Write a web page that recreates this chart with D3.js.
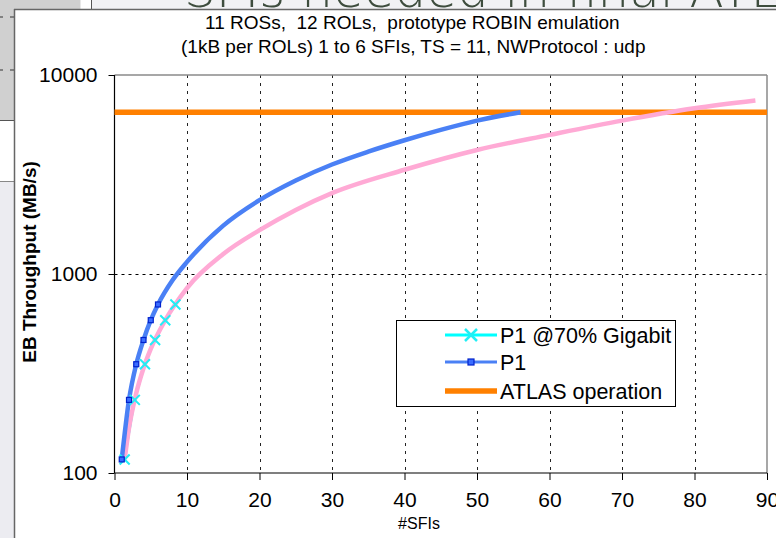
<!DOCTYPE html>
<html><head><meta charset="utf-8">
<script src="https://cdn.jsdelivr.net/npm/d3@7"></script>
<style>body{margin:0;background:#fff;}svg{display:block;font-family:"Liberation Sans",Arial,sans-serif;}</style>
</head><body>
<svg id="c" width="776" height="538"></svg>
<script>
// ---- data ----
const titleLines = ["11 ROSs,  12 ROLs,  prototype ROBIN emulation", "(1kB per ROLs) 1 to 6 SFIs, TS = 11, NWProtocol : udp"];
const xTicks = [0,10,20,30,40,50,60,70,80,90];
const yTicks = [100,1000,10000];
// P1 measured points
const p1Sfi = [1,2,3,4,5,6];
const p1Thr = [117,233,352,466,586,703];
// P1 @70% Gigabit points
const g70Sfi = [1.4,2.8,4.2,5.6,7.0,8.4];
const g70Thr = [117,233,352,466,586,703];
// P1 trend (blue)
const p1TrendSfi = [1,2,3,4,5,6,8,10,15,20,25,30,35,40,45,50,56];
const p1TrendThr = [117,233,352,466,586,703,930,1150,1750,2350,2950,3550,4120,4700,5300,5900,6500];
// P1 @70% trend (pink)
const g70TrendSfi = [1.4,2,3,4,5,7,10,15,20,25,30,40,50,60,70,80,88.4];
const g70TrendThr = [117,168,252,336,420,586,850,1260,1660,2100,2550,3340,4200,5000,5900,6800,7440];
// ATLAS operation level
const atlasSfi = [0,90];
const atlasThr = [6500,6500];
const legendLabels = ["P1 @70% Gigabit","P1","ATLAS operation"];

const svg = d3.select("#c");

// ---- slide background ----
svg.append("rect").attr("x",0).attr("y",0).attr("width",776).attr("height",538).attr("fill","#ffffff");
svg.append("rect").attr("x",91).attr("y",0).attr("width",685).attr("height",10).attr("fill","#f1f1f4");
svg.append("line").attr("x1",91.5).attr("x2",91.5).attr("y1",0).attr("y2",10).attr("stroke","#555").attr("stroke-width",1);
svg.append("rect").attr("x",0).attr("y",0).attr("width",80).attr("height",120).attr("fill","#d0d0d0");
svg.append("line").attr("x1",80.5).attr("x2",80.5).attr("y1",0).attr("y2",120).attr("stroke","#e8e8e8");
svg.append("line").attr("x1",0).attr("x2",14).attr("y1",120.5).attr("y2",120.5).attr("stroke","#555");
svg.append("rect").attr("x",0).attr("y",181).attr("width",14).attr("height",357).attr("fill","#ececf1");
svg.append("line").attr("x1",0).attr("x2",14).attr("y1",181.5).attr("y2",181.5).attr("stroke","#888");
[[0,3],[10,14]].forEach(s=>{
  svg.append("line").attr("x1",s[0]).attr("x2",s[1]).attr("y1",17).attr("y2",17).attr("stroke","#333");
  svg.append("line").attr("x1",s[0]).attr("x2",s[1]).attr("y1",70).attr("y2",70).attr("stroke","#333");
});
svg.append("clipPath").attr("id","topclip").append("rect").attr("x",0).attr("y",0).attr("width",776).attr("height",9);
svg.append("text").attr("clip-path","url(#topclip)").attr("x",184).attr("y",7).attr("font-size",50).attr("fill","#3e4d3e")
  .attr("font-family","'DejaVu Sans ExtraLight','DejaVu Sans',sans-serif").attr("font-weight",200)
  .text("SFIs needed in final ATLAS");

// chart frame
svg.append("rect").attr("x",14).attr("y",9.5).attr("width",770).attr("height",540).attr("fill","#ffffff");
svg.append("line").attr("x1",14).attr("x2",776).attr("y1",9.5).attr("y2",9.5).attr("stroke","#666").attr("stroke-width",1.5);
svg.append("line").attr("x1",14.5).attr("x2",14.5).attr("y1",9).attr("y2",538).attr("stroke","#666").attr("stroke-width",1.5);

// ---- scales ----
const x = d3.scaleLinear().domain([0,90]).range([114.5,767]);
const y = d3.scaleLog().domain([100,10000]).range([473,75]);

// title
svg.selectAll(".title").data(titleLines).join("text")
  .attr("x",(d,i)=> i===0 ? 205 : 181).attr("y",(d,i)=>29+i*23.5)
  .attr("font-size",19).attr("fill","#000").attr("xml:space","preserve")
  .style("white-space","pre").text(d=>d);

// grid
const g = svg.append("g");
g.selectAll(".vg").data(xTicks.filter(t=>t>0 && t<90)).join("line")
  .attr("x1",d=>Math.round(x(d))+0.5).attr("x2",d=>Math.round(x(d))+0.5)
  .attr("y1",y(10000)).attr("y2",y(100))
  .attr("stroke","#222").attr("stroke-dasharray","3,5");
g.selectAll(".hg").data([1000]).join("line")
  .attr("x1",x(0)).attr("x2",x(90)).attr("y1",d=>Math.round(y(d))+0.5).attr("y2",d=>Math.round(y(d))+0.5)
  .attr("stroke","#000").attr("stroke-dasharray","3,4");
// plot border top/right
g.append("line").attr("x1",x(0)).attr("x2",x(90)).attr("y1",y(10000)).attr("y2",y(10000)).attr("stroke","#8a8a8a").attr("stroke-width",1.5);
g.append("line").attr("x1",x(90)).attr("x2",x(90)).attr("y1",y(10000)).attr("y2",y(100)).attr("stroke","#8a8a8a").attr("stroke-width",1.5);

// axes
const yAxis = d3.axisLeft(y).tickValues(yTicks).tickFormat(d3.format("d")).tickSize(6).tickPadding(11);
const ya = svg.append("g").attr("transform",`translate(${x(0)},0)`).call(yAxis);
ya.select(".domain").attr("stroke","#000").attr("stroke-width",1.2).attr("d",`M0,${y(10000)}V${y(100)}`);
ya.selectAll("text").attr("font-size",21).attr("fill","#000").attr("font-family","'Liberation Sans',Arial,sans-serif");
ya.selectAll("line").attr("stroke","#000");

const xAxis = d3.axisBottom(x).tickValues(xTicks).tickSize(7).tickPadding(12);
const xa = svg.append("g").attr("transform",`translate(0,${y(100)})`).call(xAxis);
xa.select(".domain").attr("stroke","#000").attr("stroke-width",1.2).attr("d",`M${x(0)},0H${x(90)}`);
xa.selectAll("text").attr("font-size",21).attr("fill","#000").attr("font-family","'Liberation Sans',Arial,sans-serif");
xa.selectAll("line").attr("stroke","#000");

svg.append("text").attr("x",419).attr("y",529).attr("text-anchor","middle").attr("font-size",16).text("#SFIs");
svg.append("text").attr("transform","translate(36,262) rotate(-90)").attr("text-anchor","middle")
  .attr("font-size",19).attr("font-weight","bold").text("EB Throughput (MB/s)");

// ---- series ----
const line = (xs,ys)=> d3.line().x(i=>x(xs[i])).y(i=>y(ys[i])).curve(d3.curveMonotoneX)(d3.range(xs.length));
const lineLin = (xs,ys)=> d3.line().x(i=>x(xs[i])).y(i=>y(ys[i]))(d3.range(xs.length));

svg.append("path").attr("d",lineLin(g70Sfi,g70Thr)).attr("fill","none").attr("stroke","#00ffff").attr("stroke-width",2);
svg.append("path").attr("d",lineLin(p1Sfi,p1Thr)).attr("fill","none").attr("stroke","#3366ff").attr("stroke-width",2);
svg.append("path").attr("d",lineLin(atlasSfi,atlasThr)).attr("fill","none").attr("stroke","#ff8000").attr("stroke-width",5.5);
svg.append("path").attr("d",line(g70TrendSfi,g70TrendThr)).attr("fill","none").attr("stroke","#ffaad5").attr("stroke-width",4.5).attr("stroke-linecap","butt");
svg.append("path").attr("d",line(p1TrendSfi,p1TrendThr)).attr("fill","none").attr("stroke","#4a80f5").attr("stroke-width",4.5).attr("stroke-linecap","butt");

// markers
const xm = (cx,cy,s)=>`M${cx-s},${cy-s}L${cx+s},${cy+s}M${cx-s},${cy+s}L${cx+s},${cy-s}`;
svg.selectAll(".xm").data(d3.range(g70Sfi.length)).join("path")
  .attr("d",i=>xm(x(g70Sfi[i]),y(g70Thr[i]),5)).attr("stroke","#22eef5").attr("stroke-width",2).attr("fill","none");
svg.selectAll(".sm").data(d3.range(p1Sfi.length)).join("rect")
  .attr("x",i=>x(p1Sfi[i])-2.5).attr("y",i=>y(p1Thr[i])-2.5).attr("width",5).attr("height",5)
  .attr("fill","#3a6cff").attr("stroke","#0022cc").attr("stroke-width",1.2);

// ---- legend ----
const lg = svg.append("g");
lg.append("rect").attr("x",396.5).attr("y",320.5).attr("width",279).attr("height",86).attr("fill","#fff").attr("stroke","#000");
const ly = [335,362,391];
const lstyle = [{c:"#00ffff",w:3},{c:"#4a80f5",w:3},{c:"#ff8000",w:5.5}];
legendLabels.forEach((t,i)=>{
  lg.append("line").attr("x1",445).attr("x2",497).attr("y1",ly[i]).attr("y2",ly[i]).attr("stroke",lstyle[i].c).attr("stroke-width",lstyle[i].w);
  lg.append("text").attr("x",500).attr("y",ly[i]+7.5).attr("font-size",21.5).text(t);
});
lg.append("path").attr("d",xm(471,ly[0],6)).attr("stroke","#22eef5").attr("stroke-width",2.5).attr("fill","none");
lg.append("rect").attr("x",468).attr("y",ly[1]-3).attr("width",6).attr("height",6).attr("fill","#3a6cff").attr("stroke","#0022cc").attr("stroke-width",1.2);
</script>
</body></html>
